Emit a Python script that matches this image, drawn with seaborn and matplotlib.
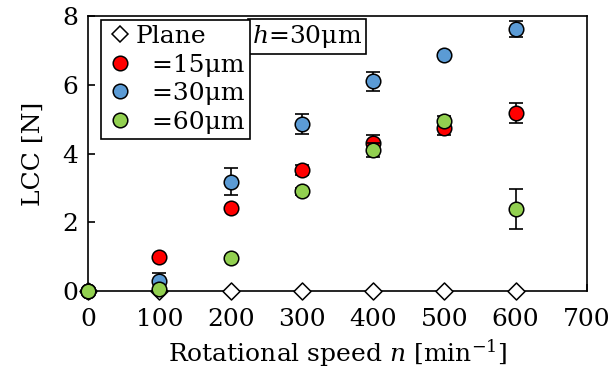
import numpy as np
import pandas as pd
import matplotlib
matplotlib.use('Agg')
import matplotlib.pyplot as plt
import seaborn as sns
from matplotlib.lines import Line2D

speed = [0, 100, 200, 300, 400, 500, 600]
plane = [0, 0, 0, 0, 0, 0, 0]
lcc_15 = [0, 0.99, 2.41, 3.52, 4.31, 4.74, 5.17]
err_15 = [0, 0, 0.05, 0.15, 0.23, 0.2, 0.29]
lcc_30 = [0, 0.29, 3.18, 4.86, 6.1, 6.88, 7.62]
err_30 = [0, 0.24, 0.39, 0.3, 0.27, 0.05, 0.24]
lcc_60 = [0, 0.05, 0.97, 2.9, 4.1, 4.95, 2.38]
err_60 = [0, 0, 0.05, 0.1, 0.2, 0.15, 0.58]

labels = ['Plane', '  =15μm', '  =30μm', '  =60μm']
colors = ['white', '#FF0000', '#5B9BD5', '#92D050']

sns.set_style('ticks')
plt.rcParams['font.family'] = ['DejaVu Serif']
plt.rcParams['mathtext.fontset'] = 'dejavuserif'
plt.rcParams['text.color'] = 'black'
plt.rcParams['axes.labelcolor'] = 'black'
plt.rcParams['xtick.color'] = 'black'
plt.rcParams['ytick.color'] = 'black'

fig = plt.figure(figsize=(6.12, 3.82), dpi=100)
ax = fig.add_axes([0.144, 0.238, 0.815, 0.72])

df = pd.DataFrame({'speed': speed * 4,
                   'lcc': plane + lcc_15 + lcc_30 + lcc_60,
                   'err': [0] * 7 + err_15 + err_30 + err_60,
                   'series': np.repeat(labels, 7)})

for i, lab in enumerate(labels):
    d = df[df.series == lab]
    if i > 0:
        ax.errorbar(d.speed, d.lcc, yerr=d.err, fmt='none', ecolor='black',
                    elinewidth=1.2, capsize=5, capthick=1.2, zorder=2 + i)
    sns.scatterplot(x=d.speed, y=d.lcc, ax=ax, color=colors[i],
                    marker='D' if i == 0 else 'o', s=110 if i > 0 else 75,
                    edgecolor='black', linewidth=1.1, zorder=3 + i,
                    clip_on=False, legend=False)

ax.set_xlim(0, 700)
ax.set_ylim(0, 8)
ax.set_xticks(range(0, 701, 100))
ax.set_yticks([0, 2, 4, 6, 8])
ax.tick_params(direction='in', length=5, width=1.2, labelsize=18)
ax.tick_params(axis='x', pad=12)
ax.tick_params(axis='y', pad=7)
for s in ax.spines.values():
    s.set_linewidth(1.2)
    s.set_color('black')
ax.set_xlabel('Rotational speed $n$ [min$^{-1}$]', fontsize=18, labelpad=5)
ax.set_ylabel('LCC [N]', fontsize=18, labelpad=13)

handles = [Line2D([], [], ls='none', marker='D', markersize=8, markerfacecolor='white',
                  markeredgecolor='black', markeredgewidth=1.1)]
for c in colors[1:]:
    handles.append(Line2D([], [], ls='none', marker='o', markersize=10.5, markerfacecolor=c,
                          markeredgecolor='black', markeredgewidth=1.1))
leg = ax.legend(handles, labels, loc='upper left', bbox_to_anchor=(0.026, 0.985),
                fontsize=18, frameon=True, fancybox=False, framealpha=1,
                edgecolor='black', borderpad=0.2, labelspacing=0.22,
                handletextpad=0.1, handlelength=1.1, borderaxespad=0)
leg.get_frame().set_linewidth(1.2)

ax.text(0.328, 0.975, '$h$=30μm', transform=ax.transAxes, fontsize=18, va='top', ha='left',
        bbox=dict(boxstyle='square,pad=0.15', facecolor='white', edgecolor='black', linewidth=1.2))

fig.savefig('out.png', dpi=100)
